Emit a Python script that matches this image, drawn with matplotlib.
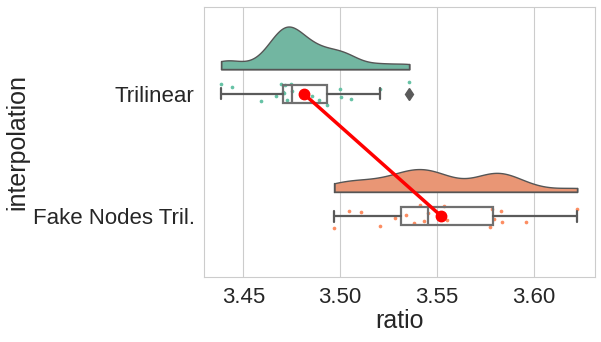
import numpy as np
import matplotlib
matplotlib.use("Agg")
import matplotlib.pyplot as plt
import seaborn as sns

# data
categories = ["Trilinear", "Fake Nodes Tril."]
ratio_trilinear = [3.4386, 3.4442, 3.4593, 3.4669, 3.4693, 3.4703, 3.4710, 3.4717,
                   3.4728, 3.4748, 3.4750, 3.4796, 3.4820, 3.4855, 3.4889, 3.4930,
                   3.5000, 3.5007, 3.5058, 3.5207, 3.5358]
ratio_fake = [3.4971, 3.5044, 3.5108, 3.5208, 3.5286, 3.5343, 3.5381, 3.5412,
              3.5432, 3.5455, 3.5539, 3.5550, 3.5776, 3.5786, 3.5794, 3.5832,
              3.5837, 3.5962, 3.6225]
xticks = [3.45, 3.50, 3.55, 3.60]

sns.set_style("whitegrid")
plt.rcParams['font.family'] = ['Liberation Sans', 'DejaVu Sans']

pal = sns.color_palette("Set2", 2)
groups = [np.array(ratio_trilinear), np.array(ratio_fake)]

fig = plt.figure(figsize=(6.01, 3.42), dpi=100)
ax = fig.add_axes([0.340, 0.189, 0.6495, 0.7896])

# half violins (cut=0, area scaled)
bw_factor = 0.34
dens = []
for g in groups:
    xs = np.linspace(g.min(), g.max(), 200)
    bw = bw_factor * g.std(ddof=1)
    d = np.exp(-0.5 * ((xs[:, None] - g[None, :]) / bw) ** 2).sum(1) / (len(g) * bw * np.sqrt(2 * np.pi))
    dens.append((xs, d))
dmax = max(d.max() for _, d in dens)
offset = 0.2
for i, (xs, d) in enumerate(dens):
    h = d / dmax * 0.35
    base = i - offset
    ax.fill_between(xs, base, base - h, color=sns.desaturate(pal[i], 0.75),
                    edgecolor="#555555", linewidth=1, zorder=2)
    ax.plot([xs[0], xs[0]], [base, base - h[0]], color="#555555", lw=1, zorder=3)
    ax.plot([xs[-1], xs[-1]], [base, base - h[-1]], color="#555555", lw=1, zorder=3)
    ax.plot([xs[0], xs[-1]], [base, base], color="#555555", lw=1, zorder=3)

# rain (jittered points)
rng = np.random.default_rng(3)
for i, g in enumerate(groups):
    jit = rng.uniform(-0.1, 0.1, len(g))
    ax.scatter(g, i + jit, s=7, color=pal[i], linewidths=0, zorder=4)

# boxes
gray = "#5a5a5a"
ax.boxplot(groups, positions=[0, 1], vert=False, widths=0.15, whis=1.5,
           patch_artist=True, capwidths=0.09, manage_ticks=False,
           boxprops=dict(facecolor="none", edgecolor="#707070", linewidth=1.6),
           whiskerprops=dict(color=gray, linewidth=1.6),
           capprops=dict(color=gray, linewidth=1.6),
           medianprops=dict(color="#707070", linewidth=1.6),
           flierprops=dict(marker="d", markerfacecolor=gray, markeredgecolor=gray,
                           markersize=6),
           zorder=5)

# means connected
means = [g.mean() for g in groups]
ax.plot(means, [0, 1], color="red", lw=2.5, marker="o", markersize=7.5, zorder=10)

ax.set_xlim(3.4299, 3.6315)
ax.set_ylim(1.5, -0.707)
ax.set_xticks(xticks)
ax.set_xticklabels(["%.2f" % t for t in xticks])
ax.set_yticks([0, 1])
ax.set_yticklabels(categories)
ax.grid(axis="y", visible=False)
ax.tick_params(labelsize=16, colors=".15", length=0, pad=7)
ax.set_xlabel("ratio", fontsize=18, color=".15", labelpad=1)
ax.set_ylabel("interpolation", fontsize=18, color=".15", labelpad=2)

fig.savefig("out.png", dpi=100)
